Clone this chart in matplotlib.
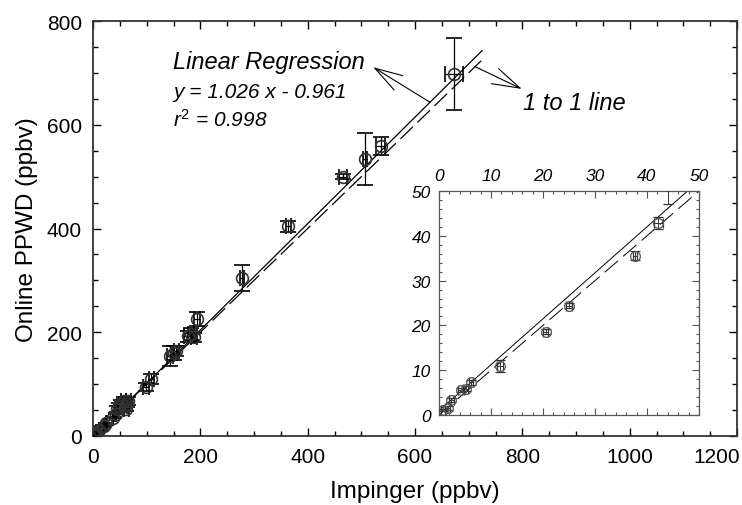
import numpy as np
import matplotlib.pyplot as plt
from matplotlib.ticker import MultipleLocator
from matplotlib.transforms import ScaledTranslation

plt.rcParams['font.family'] = ['Liberation Sans', 'DejaVu Sans']
plt.rcParams['mathtext.fontset'] = 'custom'
plt.rcParams['mathtext.rm'] = 'Liberation Sans'
plt.rcParams['mathtext.it'] = 'Liberation Sans:italic'

# Impinger vs online PPWD (ppbv)
impinger = [0.8, 1.7, 2.4, 4.3, 5.1, 6.2, 11.7, 20.5, 25.0, 37.7, 42.2,
            44, 48, 52, 57, 60, 62, 64, 66,
            99, 109, 143, 151, 155, 177, 183, 188, 194, 278, 364, 466, 507, 536, 672]
ppwd = [1.1, 1.5, 3.4, 5.6, 5.9, 7.3, 11.0, 18.6, 24.4, 35.5, 42.9,
        52, 57, 62, 67, 58, 53, 62, 68,
        94, 110, 154, 160, 164, 192, 197, 190, 226, 305, 404, 500, 534, 559, 698]
impinger_err = [0.4, 0.5, 0.4, 0.6, 0.4, 0.4, 0.6, 0.5, 0.6, 0.3, 0.8,
                3, 4, 4, 5, 4, 5, 4, 5,
                5, 5, 6, 6, 5, 7, 6, 5, 5, 4, 5, 7, 4, 9, 17]
ppwd_err = [0.3, 0.4, 0.4, 0.4, 0.5, 0.5, 1.3, 0.5, 0.5, 1.0, 1.3,
            5, 6, 7, 8, 6, 5, 7, 8,
            8, 9, 20, 14, 10, 10, 12, 8, 13, 25, 11, 5, 50, 17, 70]

# regression results
slope = 1.026
intercept = -0.961
r2 = 0.998
inset_offset = 0.961  # solid line in the inset sits this far above 1:1 at x=0

main_xticks = [0, 200, 400, 600, 800, 1000, 1200]
main_yticks = [0, 200, 400, 600, 800]
inset_ticks = [0, 10, 20, 30, 40, 50]

imp = np.array(impinger)
pp = np.array(ppwd)
ie = np.array(impinger_err)
pe = np.array(ppwd_err)

fig = plt.figure(figsize=(7.42, 5.06), dpi=100)
ax = fig.add_axes([93 / 742, 69 / 506, 644 / 742, 415 / 506])

ax.errorbar(imp, pp, xerr=ie, yerr=pe, fmt='o', mfc='none', mec='#333333',
            ms=8.5, mew=1.2, ecolor='black', elinewidth=0.9, capsize=5.5,
            capthick=0.9, zorder=3)

xs = np.array([0, 725])
ax.plot(xs, slope * xs + intercept, color='black', lw=0.9)
ax.plot(xs, xs, color='black', lw=0.9, ls=(0, (14, 5)))

ax.set_xlim(0, 1200)
ax.set_ylim(0, 800)
ax.set_xticks(main_xticks, [str(t) for t in main_xticks])
ax.set_yticks(main_yticks, [str(t) for t in main_yticks])
ax.xaxis.set_minor_locator(MultipleLocator(50))
ax.yaxis.set_minor_locator(MultipleLocator(50))
ax.tick_params(which='both', direction='in', top=True, right=True, width=1)
ax.tick_params(which='major', length=6, labelsize=15, pad=8)
ax.tick_params(which='minor', length=3.5)
for s in ax.spines.values():
    s.set_linewidth(1.3)
    s.set_color('#333333')

# last x label sits against the right edge of the picture
last = ax.get_xticklabels()[-1]
last.set_horizontalalignment('right')
last.set_transform(last.get_transform() + ScaledTranslation(0.03, 0, fig.dpi_scale_trans))

ax.set_xlabel('Impinger (ppbv)', fontsize=17.5, labelpad=10)
ax.set_ylabel('Online PPWD (ppbv)', fontsize=17.5, labelpad=6)

# annotations
ax.text(149, 722, 'Linear Regression', fontsize=17, style='italic', va='center')
ax.text(149, 665, f'y = {slope:.3f} x - {abs(intercept):.3f}', fontsize=15,
        style='italic', va='center')
ax.text(149, 611, f'$r^2$ = {r2:.3f}', fontsize=15, style='italic', va='center')
ax.text(801, 642, '1 to 1 line', fontsize=17, style='italic', va='center')

arrow = dict(arrowstyle='->, head_length=2.0, head_width=0.6', lw=0.8,
             color='black', shrinkA=0, shrinkB=0, mutation_scale=10)
ax.annotate('', xy=(522, 711), xytext=(628, slope * 628 + intercept),
            arrowprops=arrow)
ax.annotate('', xy=(799, 669), xytext=(712, 712), arrowprops=arrow)

# inset: low range
axi = fig.add_axes([439 / 742, 90 / 506, 260 / 742, 224 / 506])
low = imp <= 50
axi.errorbar(imp[low], pp[low], xerr=ie[low], yerr=pe[low], fmt='o',
             mfc='none', mec='#555555', ms=7, mew=0.9, ecolor='#333333',
             elinewidth=0.7, capsize=3.5, capthick=0.7, zorder=3)
xi = np.array([0, 50])
axi.plot(xi, slope * xi + inset_offset, color='black', lw=0.7)
axi.plot(xi, xi, color='black', lw=0.7, ls=(0, (18, 7)))
axi.set_xlim(0, 50)
axi.set_ylim(0, 50)
axi.set_xticks(inset_ticks)
axi.set_xticklabels([str(t) for t in inset_ticks], fontstyle='italic', fontsize=12.5)
axi.set_yticks(inset_ticks)
axi.set_yticklabels([str(t) for t in inset_ticks], fontstyle='italic', fontsize=12.5)
axi.xaxis.set_minor_locator(MultipleLocator(2))
axi.yaxis.set_minor_locator(MultipleLocator(2))
axi.tick_params(which='both', direction='in', top=True, bottom=True, left=True,
                right=True, labeltop=True, labelbottom=False, width=0.8,
                color='#555555')
axi.tick_params(which='major', length=5, pad=6)
axi.tick_params(which='minor', length=2.5)
for s in axi.spines.values():
    s.set_linewidth(0.9)
    s.set_color('#555555')

fig.savefig('out.png', dpi=100)
